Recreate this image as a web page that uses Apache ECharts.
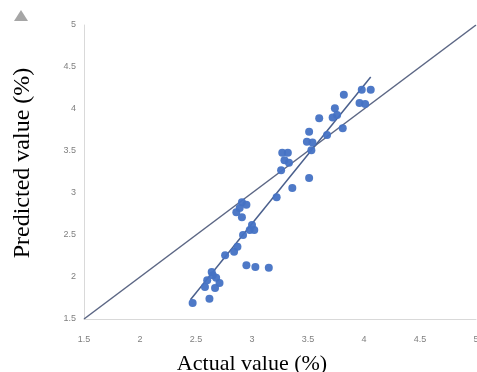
<!DOCTYPE html>
<html>
<head>
<meta charset="utf-8">
<script src="https://cdn.jsdelivr.net/npm/echarts@6/dist/echarts.min.js"></script>
<style>html,body{margin:0;padding:0;background:#fff;}#c{width:477px;height:372px;}</style>
</head>
<body>
<div id="c"></div>
<script>
// Actual vs predicted values (%)
const actual = [2.47,2.62,2.58,2.60,2.65,2.64,2.68,2.71,2.67,2.76,2.84,2.87,2.92,2.98,3.02,3.00,2.95,3.03,3.15,2.91,2.95,2.86,2.91,2.89,3.22,3.36,3.51,3.26,3.27,3.32,3.29,3.33,3.51,3.49,3.54,3.53,3.60,3.67,3.74,3.72,3.76,3.81,3.82,3.98,4.06,3.96,4.01];
const predicted = [1.69,1.74,1.88,1.96,2.02,2.06,1.99,1.93,1.87,2.26,2.30,2.36,2.50,2.56,2.56,2.62,2.14,2.12,2.11,2.89,2.86,2.77,2.71,2.82,2.95,3.06,3.18,3.27,3.48,3.48,3.39,3.36,3.73,3.61,3.60,3.51,3.89,3.69,4.01,3.90,3.93,3.77,4.17,4.23,4.23,4.07,4.06];
// Fitted trend line end points
const trendX = [2.45, 4.06];
const trendY = [1.73, 4.38];
// Ideal line y = x
const idealX = [1.5, 5];
const idealY = [1.5, 5];
const axisMin = 1.5, axisMax = 5, axisStep = 0.5;

const chart = echarts.init(document.getElementById('c'));
const pts = actual.map((v, i) => [v, predicted[i]]);
const lblFmt = v => String(Math.round(v * 10) / 10);
chart.setOption({
  animation: false,
  backgroundColor: '#ffffff',
  grid: { left: 84, right: 1, top: 25, bottom: 53, containLabel: false, outerBoundsMode: 'none' },
  xAxis: {
    type: 'value', min: axisMin, max: axisMax, interval: axisStep,
    name: 'Actual value (%)', nameLocation: 'middle', nameGap: 34,
    nameTextStyle: { fontFamily: 'Liberation Serif', fontSize: 22, color: '#000', padding: [0, 56, 0, 0] },
    axisLine: { show: true, lineStyle: { color: '#d9d9d9', width: 1 } },
    axisTick: { show: false },
    splitLine: { show: false },
    axisLabel: { color: '#7f7f7f', fontSize: 9, fontFamily: 'Liberation Sans', margin: 16, formatter: lblFmt, hideOverlap: false }
  },
  yAxis: {
    type: 'value', min: axisMin, max: axisMax, interval: axisStep,
    name: 'Predicted value (%)', nameLocation: 'middle', nameGap: 49, nameRotate: 90,
    nameTextStyle: { fontFamily: 'Liberation Serif', fontSize: 24, color: '#000', padding: [0, 0, 0, 18] },
    axisLine: { show: true, lineStyle: { color: '#d9d9d9', width: 1 } },
    axisTick: { show: false },
    splitLine: { show: false },
    axisLabel: { color: '#7f7f7f', fontSize: 9, fontFamily: 'Liberation Sans', margin: 8, formatter: lblFmt }
  },
  graphic: [
    { type: 'polygon', shape: { points: [[14, 21], [21, 10], [28, 21]] }, style: { fill: '#a6a6a6' } }
  ],
  series: [
    {
      type: 'line', data: idealX.map((v, i) => [v, idealY[i]]),
      showSymbol: false, lineStyle: { color: '#5b6684', width: 1.5 }, z: 1
    },
    {
      type: 'line', data: trendX.map((v, i) => [v, trendY[i]]),
      showSymbol: false, lineStyle: { color: '#4a5f8c', width: 1.5 }, z: 2
    },
    {
      type: 'scatter', data: pts, symbolSize: 8,
      itemStyle: { color: '#4472c4', opacity: 0.95 }, z: 3
    }
  ]
});
</script>
</body>
</html>
